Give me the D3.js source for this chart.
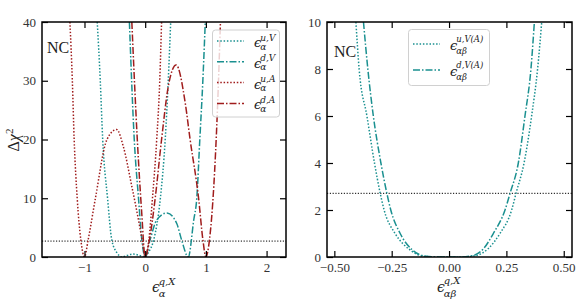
<html>
<head>
<script src="https://d3js.org/d3.v7.min.js"></script>
<style>
  body { margin: 0; background: white; }
  text { font-family: "Liberation Serif", serif; fill: #222; }
  .m { font-family: "DejaVu Serif", serif; font-style: italic; }
  .tick text { font-family: "Liberation Serif", serif; font-size: 13px; fill: #333; }
</style>
</head>
<body>
<script>
// ---- data ----
// left panel: [x, dchi2]
var uV = [[-0.79,40],[-0.74,30],[-0.70,20],[-0.62,10],[-0.55,2.9],[-0.47,0.8],[-0.38,0],[-0.3,0.25],[-0.2,0.5],[-0.1,0.3],[-0.01,0],[0.06,0.9],[0.14,2.9],[0.25,10],[0.33,20],[0.38,30],[0.42,40]];
var dV = [[-0.26,40],[-0.18,20],[-0.11,10],[-0.055,2.9],[0,0],[0.08,2.9],[0.19,6.3],[0.36,7.5],[0.52,5.7],[0.6,2.9],[0.71,0],[0.8,6.3],[0.85,10],[0.9,20],[0.95,30],[0.99,40]];
var uA = [[-1.24,40],[-1.2,30],[-1.17,20],[-1.12,10],[-1.06,2.9],[-1,0],[-0.94,2.9],[-0.82,10],[-0.63,20],[-0.47,21.7],[-0.36,18.8],[-0.22,12],[-0.11,6.3],[-0.05,2.9],[0,0],[0.06,2.9],[0.12,10],[0.19,20],[0.24,30],[0.27,40]];
var dA = [[-0.22,40],[-0.13,20],[-0.06,8],[0,0],[0.07,2.9],[0.165,10],[0.27,20],[0.38,29],[0.51,32.7],[0.66,26.2],[0.74,20],[0.88,10],[0.95,3],[1.0,0],[1.06,3],[1.13,12],[1.19,25],[1.24,40]];
// right panel
var uVA = [[-0.406,10],[-0.392,8],[-0.358,6],[-0.325,4],[-0.30,2.71],[-0.283,2],[-0.235,1],[-0.17,0.3],[-0.11,0.03],[-0.05,0],[0.05,0],[0.113,0.05],[0.17,0.35],[0.222,1],[0.273,2],[0.292,2.71],[0.327,4],[0.36,6],[0.386,8],[0.404,10]];
var dVA = [[-0.373,10],[-0.354,8],[-0.33,6],[-0.297,4],[-0.271,2.71],[-0.254,2],[-0.213,1],[-0.16,0.3],[-0.1,0.03],[-0.05,0],[0.05,0],[0.1,0.05],[0.15,0.35],[0.193,1],[0.244,2],[0.266,2.71],[0.302,4],[0.331,6],[0.357,8],[0.372,10]];
var threshold = 2.71;
var leftXTicks = [-1, 0, 1, 2];
var leftYTicks = [0, 10, 20, 30, 40];
var rightXTicks = [-0.5, -0.25, 0, 0.25, 0.5];
var rightYTicks = [0, 2, 4, 6, 8, 10];

var teal = "#1a9090";
var red = "#a01c1c";
var dotted = "1.5,1.8";
var dashdot = "7,2,1.5,2";

var svg = d3.select("body").append("svg")
  .attr("width", 584)
  .attr("height", 305);

// epsilon with stacked sup / sub
function mathLabel(g, x, y, sup, sub, size, small, supDy, subDy) {
  g.append("text").attr("class", "m").attr("x", x).attr("y", y)
    .style("font-size", size + "px").text("\u03f5");
  var sx = x + size * 0.48;
  g.append("text").attr("class", "m").attr("x", sx).attr("y", y + supDy)
    .style("font-size", small + "px").text(sup);
  g.append("text").attr("class", "m").attr("x", sx).attr("y", y + subDy)
    .style("font-size", small + "px").text(sub);
}

function panel(id, x0, x1, y0, y1, xdom, ydom, xticks, yticks, fmt) {
  var g = svg.append("g");
  var x = d3.scaleLinear().domain(xdom).range([x0, x1]);
  var y = d3.scaleLinear().domain(ydom).range([y1, y0]);

  g.append("clipPath").attr("id", id)
    .append("rect").attr("x", x0).attr("y", y0).attr("width", x1 - x0).attr("height", y1 - y0);

  var plot = g.append("g").attr("clip-path", "url(#" + id + ")");

  // axes, ticks pointing inward on all four sides
  g.append("g").attr("transform", "translate(0," + y1 + ")")
    .call(d3.axisBottom(x).tickValues(xticks).tickSize(-6).tickPadding(6).tickFormat(fmt));
  g.append("g").attr("transform", "translate(0," + y0 + ")")
    .call(d3.axisTop(x).tickValues(xticks).tickSize(-6).tickFormat(""));
  g.append("g").attr("transform", "translate(" + x0 + ",0)")
    .call(d3.axisLeft(y).tickValues(yticks).tickSize(-6).tickPadding(6));
  g.append("g").attr("transform", "translate(" + x1 + ",0)")
    .call(d3.axisRight(y).tickValues(yticks).tickSize(-6).tickFormat(""));

  g.selectAll(".domain").remove();
  g.selectAll(".tick line").style("stroke", "black").style("stroke-width", 1.2);
  g.selectAll("g").attr("font-family", null).attr("font-size", null);

  g.append("rect").attr("x", x0).attr("y", y0).attr("width", x1 - x0).attr("height", y1 - y0)
    .style("fill", "none").style("stroke", "black").style("stroke-width", 1.5);

  // 90% CL line
  plot.append("line")
    .attr("x1", x0).attr("x2", x1)
    .attr("y1", y(threshold)).attr("y2", y(threshold))
    .style("stroke", "black").style("stroke-width", 1).style("stroke-dasharray", "1.2,1.6");

  var line = d3.line()
    .x(function(d) { return x(d[0]); })
    .y(function(d) { return y(d[1]); })
    .curve(d3.curveMonotoneX);

  return { g: g, plot: plot, x: x, y: y, line: line };
}

function drawCurve(p, data, color, dash) {
  p.plot.append("path")
    .attr("d", p.line(data))
    .style("fill", "none")
    .style("stroke", color)
    .style("stroke-width", 1.5)
    .style("stroke-dasharray", dash);
}

// ---- left panel ----
var L = panel("clipL", 42, 286, 22, 257, [-1.7, 2.32], [0, 40], leftXTicks, leftYTicks,
  function(d) { return d < 0 ? "\u2212" + Math.abs(d) : d; });
drawCurve(L, uV, teal, dotted);
drawCurve(L, dV, teal, dashdot);
drawCurve(L, uA, red, dotted);
drawCurve(L, dA, red, dashdot);

L.g.append("text").attr("x", 47).attr("y", 53).style("font-size", "16px").text("NC");

// left legend
var legL = L.g.append("g");
legL.append("rect").attr("x", 212.5).attr("y", 30).attr("width", 67).attr("height", 87)
  .attr("rx", 3).style("fill", "white").style("fill-opacity", 0.8)
  .style("stroke", "#d0d0d0").style("stroke-width", 1);
var legLItems = [
  { sup: "u,V", c: teal, d: dotted },
  { sup: "d,V", c: teal, d: dashdot },
  { sup: "u,A", c: red, d: dotted },
  { sup: "d,A", c: red, d: dashdot }
];
legLItems.forEach(function(it, i) {
  var yy = 41 + i * 20.8;
  legL.append("line").attr("x1", 217).attr("x2", 244).attr("y1", yy).attr("y2", yy)
    .style("stroke", it.c).style("stroke-width", 1.5).style("stroke-dasharray", it.d);
  mathLabel(legL, 254, yy + 6, it.sup, "\u03b1", 13, 9, -6.5, 2.5);
});

// y label
svg.append("text")
  .attr("transform", "translate(19,140) rotate(-90)")
  .attr("text-anchor", "middle")
  .style("font-size", "16px")
  .html('\u0394<tspan font-style="italic">\u03c7</tspan><tspan dy="-6" font-size="11px">2</tspan>');

mathLabel(svg, 152, 292, "q,X", "\u03b1", 14, 10, -7, 4.5);

// ---- right panel ----
var R = panel("clipR", 327, 572, 22, 257, [-0.532, 0.536], [0, 10], rightXTicks, rightYTicks,
  function(d) { var s = Math.abs(d).toFixed(2); return d < 0 ? "\u2212" + s : s; });
drawCurve(R, uVA, teal, dotted);
drawCurve(R, dVA, teal, dashdot);

R.g.append("text").attr("x", 334).attr("y", 57).style("font-size", "16px").text("NC");

var legR = R.g.append("g");
legR.append("rect").attr("x", 408.5).attr("y", 29.5).attr("width", 81).attr("height", 56)
  .attr("rx", 3).style("fill", "white").style("fill-opacity", 0.8)
  .style("stroke", "#d0d0d0").style("stroke-width", 1);
var legRItems = [
  { sup: "u,V(A)", c: teal, d: dotted },
  { sup: "d,V(A)", c: teal, d: dashdot }
];
legRItems.forEach(function(it, i) {
  var yy = 44 + i * 26;
  legR.append("line").attr("x1", 413).attr("x2", 440).attr("y1", yy).attr("y2", yy)
    .style("stroke", it.c).style("stroke-width", 1.5).style("stroke-dasharray", it.d);
  mathLabel(legR, 450, yy + 6, it.sup, "\u03b1\u03b2", 13, 8.5, -8, 4);
});

mathLabel(svg, 437, 292, "q,X", "\u03b1\u03b2", 14, 10, -8, 5);
</script>
</body>
</html>
